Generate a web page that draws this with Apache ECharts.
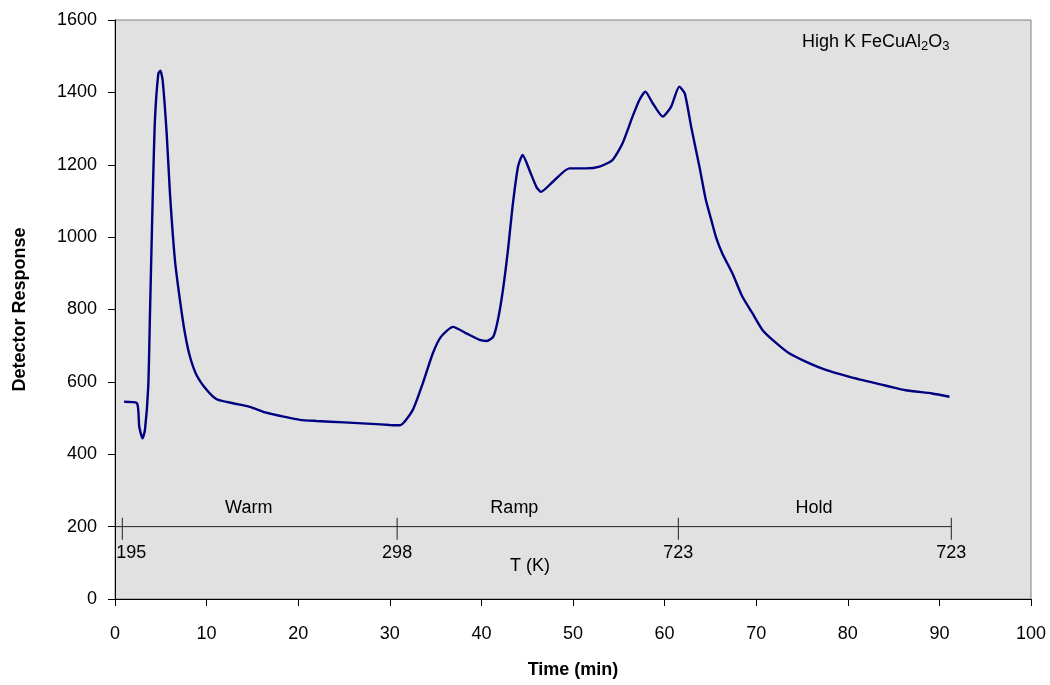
<!DOCTYPE html>
<html>
<head>
<meta charset="utf-8">
<script src="https://cdn.jsdelivr.net/npm/echarts@6/dist/echarts.min.js"></script>
<style>
  html, body { margin: 0; padding: 0; background: #fff; }
  #chart { width: 1050px; height: 685px; }
</style>
</head>
<body>
<div id="chart"></div>
<script>
// Detector trace (time in min, response)
const timeMin = [1.0, 2.4, 2.65, 3.0, 3.27, 3.63, 3.82, 4.11, 4.36, 4.73, 4.95, 5.2, 5.64, 6.0, 6.54, 7.09, 7.63, 8.18, 8.9, 10.0,
  11.1, 12.9, 14.7, 16.5, 18.4, 20.2, 22, 25, 28, 30, 31.1, 32.5, 33.6, 34.7, 35.6, 36.9, 38.35, 39.8, 40.6, 41.3, 41.8,
  42.35, 42.9, 43.4, 44.0, 44.5, 45.25, 46.0, 46.5, 47.8, 49.6, 51.4, 52.9, 54.3, 55.4, 56.5, 57.25, 57.9, 58.7, 59.8, 60.7,
  61.6, 62.2, 62.9, 63.8, 64.5, 65.1, 65.6, 66.3, 67.4, 68.5, 69.6, 70.7, 72.2, 73.6, 75.4, 77.6, 80.2, 83.1, 86.3, 89.2, 91.1]
const response = [545, 541, 476, 444, 467, 587, 790, 1103, 1324, 1452, 1460, 1434, 1287, 1121, 937, 826, 735, 670, 619, 578,
  552, 541, 531, 515, 504, 495, 492, 488, 484, 481, 480, 522, 596, 679, 725, 752, 734, 716, 713, 725, 771,
  854, 964, 1084, 1195, 1227, 1185, 1139, 1125, 1153, 1190, 1190, 1195, 1213, 1259, 1333, 1379, 1402, 1370, 1333, 1360,
  1416, 1397, 1305, 1195, 1103, 1047, 1001, 955, 900, 835, 789, 743, 707, 679, 656, 633, 614, 596, 577, 568, 559]

// Temperature scale drawn inside the plot
const tempAxisLevel = 200
const tempAxisStart = 0
const tempAxisEnd = 91.3
const tempTickTimes = [0.8, 30.8, 61.5, 91.3]
const tempTickLabels = ['195', '298', '723', '723']
const stageNames = ['Warm', 'Ramp', 'Hold']
const stageTimes = [14.6, 43.6, 76.3]
const stageLevel = 251
const tempTitle = 'T (K)'
const tempTitlePos = [45.3, 91]

const xTicks = { min: 0, max: 100, interval: 10 }
const yTicks = { min: 0, max: 1600, interval: 200 }

const font = 'Liberation Sans, Arial, sans-serif'
const chart = echarts.init(document.getElementById('chart'))

const option = {
  backgroundColor: '#fff',
  animation: false,
  textStyle: { fontFamily: font },
  title: {
    text: '{a|High K FeCuAl}{s|2}{a|O}{s|3}',
    left: 797,
    top: 28,
    textStyle: {
      rich: {
        a: { fontFamily: font, fontSize: 18, fontWeight: 'normal', color: '#000', lineHeight: 20, verticalAlign: 'top', padding: [0, 0, 5, 0] },
        s: { fontFamily: font, fontSize: 13, fontWeight: 'normal', color: '#000', lineHeight: 12, verticalAlign: 'bottom' },
      },
    },
  },
  grid: {
    left: 115,
    right: 19,
    top: 20,
    bottom: 86,
    show: true,
    backgroundColor: '#e1e1e1',
    borderColor: '#808080',
    borderWidth: 1,
  },
  xAxis: {
    type: 'value',
    min: xTicks.min,
    max: xTicks.max,
    interval: xTicks.interval,
    name: 'Time (min)',
    nameLocation: 'middle',
    nameGap: 62,
    nameTextStyle: { fontFamily: font, fontSize: 18, fontWeight: 'bold', color: '#000' },
    axisLine: { lineStyle: { color: '#000', width: 1 } },
    axisTick: { inside: false, length: 7, lineStyle: { color: '#000' } },
    axisLabel: { fontFamily: font, fontSize: 18, color: '#000', margin: 26 },
    splitLine: { show: false },
  },
  yAxis: {
    type: 'value',
    min: yTicks.min,
    max: yTicks.max,
    interval: yTicks.interval,
    name: 'Detector Response',
    nameLocation: 'middle',
    nameGap: 86,
    nameTextStyle: { fontFamily: font, fontSize: 18, fontWeight: 'bold', color: '#000' },
    axisLine: { show: true, lineStyle: { color: '#000', width: 1 } },
    axisTick: { show: true, inside: false, length: 7, lineStyle: { color: '#000' } },
    axisLabel: { fontFamily: font, fontSize: 18, color: '#000', margin: 18, formatter: (v) => String(v) },
    splitLine: { show: false },
  },
  series: [
    {
      name: 'response',
      type: 'line',
      data: timeMin.map((t, i) => [t, response[i]]),
      showSymbol: false,
      smooth: 0.2,
      lineStyle: { color: '#000080', width: 2.4 },
      z: 5,
    },
    {
      name: 'temp axis',
      type: 'line',
      data: [[tempAxisStart, tempAxisLevel], [tempAxisEnd, tempAxisLevel]],
      showSymbol: false,
      lineStyle: { color: '#222', width: 1 },
      z: 3,
    },
    {
      name: 'temp ticks',
      type: 'scatter',
      data: tempTickTimes.map((t, i) => ({
        value: [t, tempAxisLevel],
        label: i === 0 ? { align: 'left', offset: [-6, 0] } : {},
      })),
      symbol: 'rect',
      symbolSize: [1, 22],
      symbolOffset: [0, 2],
      itemStyle: { color: '#222', opacity: 1 },
      label: {
        show: true,
        position: 'bottom',
        distance: 4,
        fontFamily: font,
        fontSize: 18,
        color: '#000',
        formatter: (p) => tempTickLabels[p.dataIndex],
      },
      z: 3,
    },
    {
      name: 'stages',
      type: 'scatter',
      data: stageTimes.map((t) => [t, stageLevel])
        .concat([tempTitlePos]),
      symbolSize: 0,
      itemStyle: { opacity: 1 },
      label: {
        show: true,
        position: 'inside',
        fontFamily: font,
        fontSize: 18,
        color: '#000',
        formatter: (p) => p.dataIndex < stageNames.length ? stageNames[p.dataIndex] : tempTitle,
      },
      z: 3,
    },
  ],
}

chart.setOption(option)
</script>
</body>
</html>
